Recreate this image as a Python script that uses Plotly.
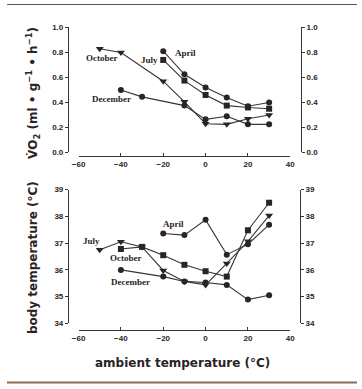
import plotly.graph_objects as go

# ---- data ----
x_oct_vo2 = [-50, -40, -20, -10, 0, 10, 20, 30]
y_oct_vo2 = [0.83, 0.80, 0.57, 0.405, 0.23, 0.225, 0.27, 0.30]
x_jul_vo2 = [-20, -10, 0, 10, 20, 30]
y_jul_vo2 = [0.74, 0.575, 0.46, 0.375, 0.36, 0.35]
x_apr_vo2 = [-20, -10, 0, 10, 20, 30]
y_apr_vo2 = [0.81, 0.625, 0.52, 0.44, 0.37, 0.40]
x_dec_vo2 = [-40, -30, -10, 0, 10, 20, 30]
y_dec_vo2 = [0.50, 0.445, 0.375, 0.265, 0.29, 0.225, 0.225]

x_jul_tb = [-50, -40, -30, -20, -10, 0, 10, 20, 30]
y_jul_tb = [36.75, 37.05, 36.86, 35.98, 35.57, 35.44, 36.24, 37.07, 38.03]
x_oct_tb = [-40, -30, -20, -10, 0, 10, 20, 30]
y_oct_tb = [36.78, 36.86, 36.55, 36.19, 35.95, 35.75, 37.48, 38.51]
x_apr_tb = [-20, -10, 0, 10, 20, 30]
y_apr_tb = [37.36, 37.30, 37.87, 36.57, 36.96, 37.69]
x_dec_tb = [-40, -20, -10, 0, 10, 20, 30]
y_dec_tb = [36.00, 35.75, 35.57, 35.53, 35.44, 34.89, 35.05]

x_ticks = [-60, -40, -20, 0, 20, 40]
vo2_ticks = [0.0, 0.2, 0.4, 0.6, 0.8, 1.0]
tb_ticks = [34, 35, 36, 37, 38, 39]

INK = "#2a2424"
LINE = "#3b3434"
W, H = 362, 389

def px(xp):
    return xp / W

def py(yp):
    return (H - yp) / H

fig = go.Figure()

def add(xs, ys, sym, xa, ya):
    fig.add_trace(go.Scatter(
        x=xs, y=ys, mode="lines+markers", xaxis=xa, yaxis=ya,
        line=dict(color=LINE, width=1.1),
        marker=dict(symbol=sym, size=6 if sym != "triangle-down" else 7, color=INK),
        showlegend=False, cliponaxis=False))

add(x_oct_vo2, y_oct_vo2, "triangle-down", "x", "y")
add(x_jul_vo2, y_jul_vo2, "square", "x", "y")
add(x_apr_vo2, y_apr_vo2, "circle", "x", "y")
add(x_dec_vo2, y_dec_vo2, "circle", "x", "y")

add(x_jul_tb, y_jul_tb, "triangle-down", "x2", "y3")
add(x_oct_tb, y_oct_tb, "square", "x2", "y3")
add(x_apr_tb, y_apr_tb, "circle", "x2", "y3")
add(x_dec_tb, y_dec_tb, "circle", "x2", "y3")

tickfont = dict(family="Liberation Sans", size=8, color=INK, weight="bold")
xdom = [px(74), px(293)]

common_x = dict(range=[-60, 40], domain=xdom, showgrid=False, zeroline=False,
                showline=True, linecolor=LINE, linewidth=1, ticks="inside",
                ticklen=3, tickcolor=LINE, tickvals=x_ticks, tickfont=tickfont,
                anchor="free")

common_y = dict(showgrid=False, zeroline=False, showline=True, linecolor=LINE,
                linewidth=1, ticks="outside", ticklen=3, tickcolor=LINE,
                tickfont=tickfont, anchor="free")

fig.update_layout(
    width=W, height=H, margin=dict(l=0, r=0, t=0, b=0),
    paper_bgcolor="white", plot_bgcolor="rgba(0,0,0,0)",
    xaxis=dict(**common_x, position=py(156)),
    yaxis=dict(**common_y, domain=[py(152), py(24)], range=[0, 1],
               tickvals=vo2_ticks, ticktext=[f"{v:.1f}" for v in vo2_ticks],
               position=px(63)),
    yaxis2=dict(**common_y, domain=[py(152), py(24)], range=[0, 1],
                tickvals=vo2_ticks, ticktext=[f"{v:.1f}" for v in vo2_ticks],
                overlaying="y", side="right", position=px(304)),
    xaxis2=dict(**common_x, position=py(334)),
    yaxis3=dict(**common_y, domain=[py(327), py(190)], range=[34, 39],
                tickvals=tb_ticks, position=px(63)),
    yaxis4=dict(**common_y, domain=[py(327), py(190)], range=[34, 39],
                tickvals=tb_ticks, overlaying="y3", side="right", position=px(303)),
)

# invisible traces so the right axes are drawn
fig.add_trace(go.Scatter(x=[None], y=[None], xaxis="x", yaxis="y2", showlegend=False))
fig.add_trace(go.Scatter(x=[None], y=[None], xaxis="x2", yaxis="y4", showlegend=False))

lab = dict(family="Liberation Serif", size=9, color=INK)

def note(text, xp, yp, anchor="left"):
    fig.add_annotation(text=f"<b>{text}</b>", x=px(xp), y=py(yp), xref="paper",
                       yref="paper", showarrow=False, font=lab, xanchor=anchor,
                       yanchor="middle")

note("October", 80, 55)
note("July", 158, 57, anchor="right")
note("April", 172, 50)
note("December", 86, 97)

note("April", 159, 225)
note("July", 77, 243)
note("October", 104, 260)
note("December", 105, 285)

titlefont = dict(family="DejaVu Sans", size=12, color=INK, weight="bold")
fig.add_annotation(text="V\u0307O<sub>2</sub> (ml \u2022 g<sup>\u22121</sup> \u2022 h<sup>\u22121</sup>)",
                   x=px(27), y=py(91), xref="paper", yref="paper", showarrow=False,
                   textangle=-90, font=titlefont, xanchor="center", yanchor="middle")
fig.add_annotation(text="body temperature (°C)",
                   x=px(27), y=py(260), xref="paper", yref="paper", showarrow=False,
                   textangle=-90, font=titlefont, xanchor="center", yanchor="middle")
fig.add_annotation(text="ambient temperature (°C)",
                   x=px(181), y=py(368), xref="paper", yref="paper", showarrow=False,
                   font=titlefont, xanchor="center", yanchor="middle")

fig.add_shape(type="line", xref="paper", yref="paper", x0=0, x1=1, y0=py(0.5), y1=py(0.5),
              line=dict(color="#555", width=1))
fig.add_shape(type="line", xref="paper", yref="paper", x0=0, x1=1, y0=py(387.5), y1=py(387.5),
              line=dict(color="#8a6a50", width=2))

fig.write_html("out.html", config={"displayModeBar": False},
               post_script="document.body.style.margin='0';document.body.style.padding='0';document.body.style.overflow='hidden';")
